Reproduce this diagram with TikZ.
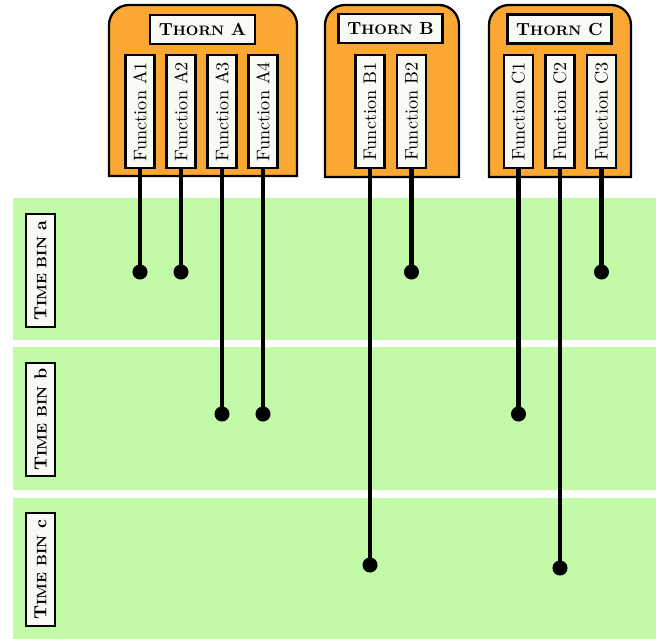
\documentclass[tikz,border=0pt]{standalone}
\usepackage{graphicx}
\definecolor{bandgreen}{RGB}{194,250,168}
\definecolor{thornorange}{RGB}{251,167,51}
\definecolor{boxwhite}{RGB}{248,250,244}
\newcommand\fsc[1]{{\fontsize{7.8pt}{9pt}\selectfont #1}}
\newcommand\thornshape[3]{%
  \filldraw[thornbox] (#1,#3) -- (#1,25) arc[start angle=180,end angle=90,radius=11.4pt]
    -- ({#2-20},5) arc[start angle=90,end angle=0,radius=11.4pt] -- (#2,#3) -- cycle;}
\begin{document}
\begin{tikzpicture}[x=0.57pt,y=-0.57pt,
  band/.style={fill=bandgreen,draw=none},
  thornbox/.style={fill=thornorange,draw=black,line width=1.3pt},
  fnbox/.style={draw=black,fill=boxwhite,line width=1.5pt,minimum width=16.5pt,minimum height=64.4pt,inner sep=0pt,font=\fontsize{10.4pt}{12pt}\selectfont},
  binbox/.style={draw=black,fill=boxwhite,line width=1.5pt,minimum width=16.5pt,minimum height=64.4pt,inner sep=0pt,font=\bfseries},
  titlebox/.style={draw=black,fill=boxwhite,line width=1.5pt,minimum height=16.5pt,inner xsep=5pt,inner ysep=0pt,font=\bfseries},
  dot/.style={circle,fill=black,inner sep=0pt,minimum size=8.6pt},
  conn/.style={line width=2.3pt}]
\useasboundingbox (0,0) rectangle (656,639);
% time bands
\fill[band] (13,198) rectangle (656,340);
\fill[band] (13,347) rectangle (656,490);
\fill[band] (13,498) rectangle (656,639);
\node[binbox] (ta) at (40.5,270.5) {\rotatebox{90}{T\fsc{IME BIN} a}};
\node[binbox] (tb) at (40.5,419.5) {\rotatebox{90}{T\fsc{IME BIN} b}};
\node[binbox] (tc) at (40.5,569.5) {\rotatebox{90}{T\fsc{IME BIN} c}};
% thorns
\thornshape{109}{297}{176}
\thornshape{325}{459}{177}
\thornshape{489}{631}{177}
\node[titlebox] (TA) at (202.5,29.5) {T\fsc{HORN} A};
\node[titlebox] (TB) at (390.5,28.5) {T\fsc{HORN} B};
\node[titlebox] (TC) at (559.5,29) {T\fsc{HORN} C};
\node[fnbox] (A1) at (140,111.5) {\rotatebox{90}{Function A1}};
\node[fnbox] (A2) at (181,111.5) {\rotatebox{90}{Function A2}};
\node[fnbox] (A3) at (222,111.5) {\rotatebox{90}{Function A3}};
\node[fnbox] (A4) at (263,111.5) {\rotatebox{90}{Function A4}};
\node[fnbox] (B1) at (370,111.5) {\rotatebox{90}{Function B1}};
\node[fnbox] (B2) at (411.5,111.5) {\rotatebox{90}{Function B2}};
\node[fnbox] (C1) at (518.5,111.5) {\rotatebox{90}{Function C1}};
\node[fnbox] (C2) at (560,111.5) {\rotatebox{90}{Function C2}};
\node[fnbox] (C3) at (601.5,111.5) {\rotatebox{90}{Function C3}};
% dots
\node[dot] (dA1) at (140,272) {};
\node[dot] (dA2) at (181,272) {};
\node[dot] (dA3) at (222,414) {};
\node[dot] (dA4) at (263,414) {};
\node[dot] (dB1) at (370,565) {};
\node[dot] (dB2) at (411.5,272) {};
\node[dot] (dC1) at (518.5,414) {};
\node[dot] (dC2) at (560,568) {};
\node[dot] (dC3) at (601.5,272) {};
\foreach \n in {A1,A2,A3,A4,B1,B2,C1,C2,C3}
  \draw[conn] (\n.south) -- (d\n.center);
\end{tikzpicture}
\end{document}
